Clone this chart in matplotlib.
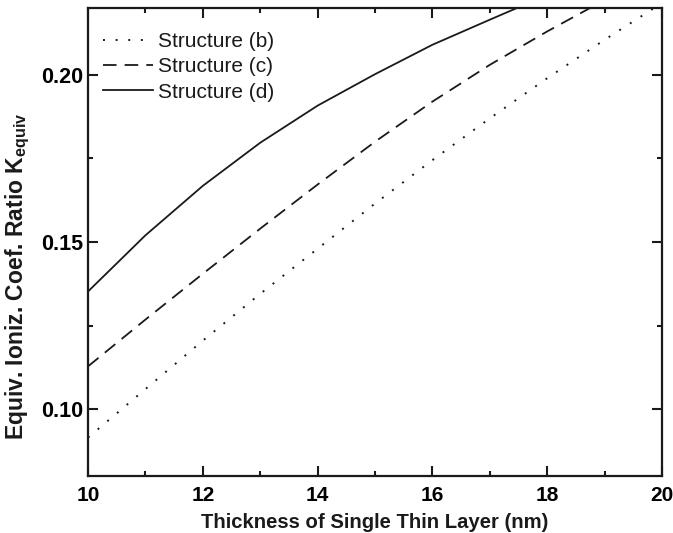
import matplotlib.pyplot as plt
from matplotlib.ticker import MultipleLocator

plt.rcParams['font.family'] = ['Liberation Sans', 'DejaVu Sans']
plt.rcParams['mathtext.fontset'] = 'custom'
plt.rcParams['mathtext.rm'] = 'Liberation Sans'
plt.rcParams['mathtext.bf'] = 'Liberation Sans:bold'

# values
x_b = [10, 11, 12, 13, 14, 15, 16, 17, 18, 19, 20]
k_b = [0.0915, 0.1060, 0.1205, 0.1345, 0.1480, 0.1615, 0.1745, 0.1870, 0.1990, 0.2105, 0.2215]

x_c = [10, 11, 12, 13, 14, 15, 16, 17, 18, 18.8]
k_c = [0.1128, 0.1268, 0.1405, 0.1540, 0.1672, 0.1800, 0.1920, 0.2030, 0.2130, 0.2205]

x_d = [10, 11, 12, 13, 14, 15, 16, 17, 17.5]
k_d = [0.1352, 0.1520, 0.1668, 0.1797, 0.1908, 0.2002, 0.2090, 0.2165, 0.2202]

labels = ['Structure (b)', 'Structure (c)', 'Structure (d)']
x_ticks = [10, 12, 14, 16, 18, 20]
y_ticks = [0.10, 0.15, 0.20]

fig = plt.figure(figsize=(6.73, 5.33), dpi=100)
ax = fig.add_axes([0.1308, 0.1069, 0.8529, 0.8781])

col = '#1a1a1a'
ax.plot(x_b, k_b, color=col, lw=1.4, linestyle=(0, (1, 5.5)), label=labels[0])
ax.plot(x_c, k_c, color=col, lw=1.3, linestyle=(0, (7.5, 4.5)), label=labels[1])
ax.plot(x_d, k_d, color=col, lw=1.3, linestyle='-', label=labels[2])

ax.set_xlim(10, 20)
ax.set_ylim(0.08, 0.22)
ax.set_xticks(x_ticks)
ax.set_yticks(y_ticks)
ax.xaxis.set_minor_locator(MultipleLocator(1))
ax.yaxis.set_minor_locator(MultipleLocator(0.025))
ax.set_xticklabels([str(v) for v in x_ticks], fontweight='bold', fontsize=15)
ax.set_yticklabels(['%.2f' % v for v in y_ticks], fontweight='bold', fontsize=15.5)

ax.tick_params(which='both', direction='in', top=True, right=True, width=1.5, color=col)
ax.tick_params(which='major', length=7)
ax.tick_params(which='minor', length=3.8)
ax.tick_params(axis='x', which='major', pad=7)
ax.tick_params(axis='y', which='major', pad=3.5)
for s in ax.spines.values():
    s.set_linewidth(1.6)
    s.set_color(col)

ax.set_xlabel('Thickness of Single Thin Layer (nm)', fontsize=14.6, fontweight='bold', color=col)
ax.set_ylabel(r'Equiv. Ioniz. Coef. Ratio K$_{\mathbf{equiv}}$', fontsize=16.5, fontweight='bold',
              color=col)
ax.xaxis.set_label_coords(0.5, -0.079)
ax.yaxis.set_label_coords(-0.097, 0.426)

leg = ax.legend(loc='upper left', frameon=False, fontsize=15, handlelength=2.4,
                handletextpad=0.25, labelspacing=0.3, borderaxespad=0.0,
                bbox_to_anchor=(0.012, 0.966))
for t in leg.get_texts():
    t.set_color(col)

fig.savefig('out.png', dpi=100)
